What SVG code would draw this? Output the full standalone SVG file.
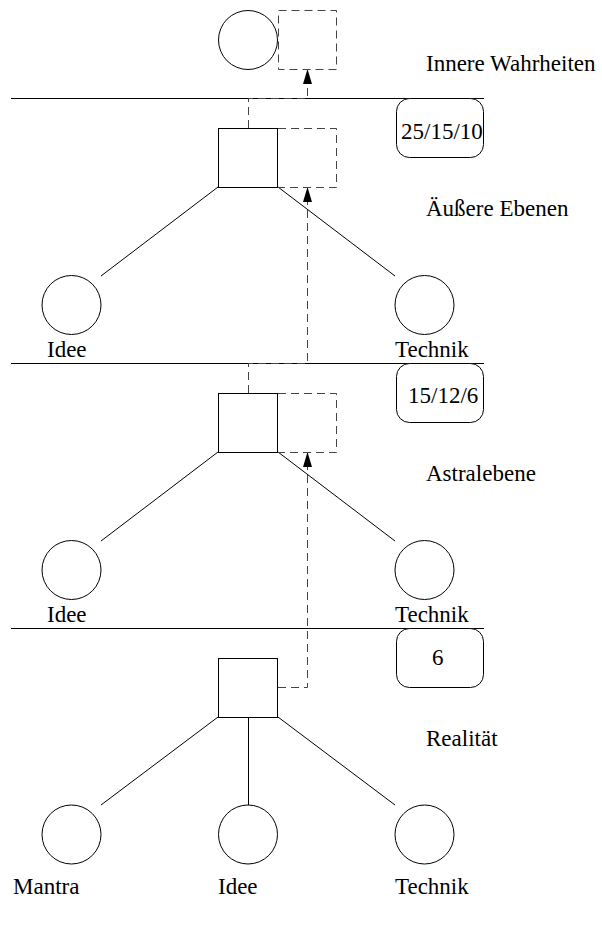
<svg xmlns="http://www.w3.org/2000/svg" width="602" height="926" viewBox="0 0 602 926">
  <style>
    .solid { fill: none; stroke: #000; stroke-width: 1; }
    .dash { fill: none; stroke: #444; stroke-width: 1; stroke-dasharray: 8 5; }
    .lbl { font-family: "Liberation Serif", "Times New Roman", serif; font-size: 23px; fill: #000; }
    .tag { fill: #fff; stroke: #000; stroke-width: 1; }
  </style>
  <defs>
    <!-- filled arrowhead, drawn along +x so orient="auto" follows the path -->
    <marker id="head" viewBox="0 0 15 10" refX="15" refY="5" markerWidth="15" markerHeight="10" markerUnits="userSpaceOnUse" orient="auto">
      <path d="M15 5 L0 9.5 L0 0.5 Z" fill="#000"/>
    </marker>
  </defs>
  <rect width="602" height="926" fill="#fff"/>

  <!-- level separators -->
  <g id="separators" class="solid">
    <line x1="11" y1="98.5" x2="484" y2="98.5"/>
    <line x1="11" y1="363.5" x2="484" y2="363.5"/>
    <line x1="11" y1="628.5" x2="484" y2="628.5"/>
  </g>

  <!-- level tags -->
  <g id="tag1">
    <rect class="tag" x="396.5" y="98.5" width="87" height="59" rx="13"/>
    <text class="lbl" x="401" y="139">25/15/10</text>
  </g>
  <g id="tag2">
    <rect class="tag" x="396.5" y="363.5" width="87" height="59" rx="13"/>
    <text class="lbl" x="408" y="403">15/12/6</text>
  </g>
  <g id="tag3">
    <rect class="tag" x="396.5" y="628.5" width="87" height="59" rx="13"/>
    <text class="lbl" x="432" y="665">6</text>
  </g>

  <!-- level names -->
  <g id="levels">
    <text class="lbl" x="426" y="71">Innere Wahrheiten</text>
    <text class="lbl" x="426" y="216">Äußere Ebenen</text>
    <text class="lbl" x="426" y="481">Astralebene</text>
    <text class="lbl" x="426" y="746">Realität</text>
  </g>

  <!-- connectors -->
  <g id="connectors">
    <g class="solid">
      <line x1="218" y1="187" x2="101" y2="276"/>
      <line x1="278" y1="187" x2="395" y2="276"/>
      <line x1="218" y1="452" x2="101" y2="541"/>
      <line x1="278" y1="452" x2="395" y2="541"/>
      <line x1="218" y1="717" x2="101" y2="805"/>
      <line x1="248.5" y1="717" x2="248.5" y2="805"/>
      <line x1="278" y1="717" x2="395" y2="805"/>
    </g>
    <g class="dash">
      <path d="M248.5 128 V98.5 H307.5 V69" marker-end="url(#head)"/>
      <path d="M248.5 393 V363.5 H307.5 V187" marker-end="url(#head)"/>
      <path d="M278 687.5 H307.5 V452" marker-end="url(#head)"/>
    </g>
  </g>

  <!-- top level -->
  <g id="top">
    <circle class="solid" cx="248" cy="40" r="29.5"/>
    <rect class="dash" x="278.5" y="10.5" width="58" height="59"/>
  </g>

  <!-- outer planes -->
  <g id="outer">
    <rect class="solid" x="218.5" y="128.5" width="59" height="59"/>
    <path class="dash" d="M278 128.5 H336.5 V187.5 H278"/>
  </g>
  <g id="outer-idee">
    <circle class="solid" cx="71.5" cy="305" r="29.5"/>
    <text class="lbl" x="47" y="357">Idee</text>
  </g>
  <g id="outer-technik">
    <circle class="solid" cx="424.5" cy="305" r="29.5"/>
    <text class="lbl" x="395" y="357">Technik</text>
  </g>

  <!-- astral plane -->
  <g id="astral">
    <rect class="solid" x="218.5" y="393.5" width="59" height="59"/>
    <path class="dash" d="M278 393.5 H336.5 V452.5 H278"/>
  </g>
  <g id="astral-idee">
    <circle class="solid" cx="71.5" cy="570" r="29.5"/>
    <text class="lbl" x="47" y="622">Idee</text>
  </g>
  <g id="astral-technik">
    <circle class="solid" cx="424.5" cy="570" r="29.5"/>
    <text class="lbl" x="395" y="622">Technik</text>
  </g>

  <!-- reality -->
  <g id="reality">
    <rect class="solid" x="218.5" y="658.5" width="59" height="59"/>
  </g>
  <g id="reality-mantra">
    <circle class="solid" cx="71.5" cy="834.5" r="29.5"/>
    <text class="lbl" x="13" y="894">Mantra</text>
  </g>
  <g id="reality-idee">
    <circle class="solid" cx="248" cy="834.5" r="29.5"/>
    <text class="lbl" x="218" y="894">Idee</text>
  </g>
  <g id="reality-technik">
    <circle class="solid" cx="424.5" cy="834.5" r="29.5"/>
    <text class="lbl" x="395" y="894">Technik</text>
  </g>
</svg>
